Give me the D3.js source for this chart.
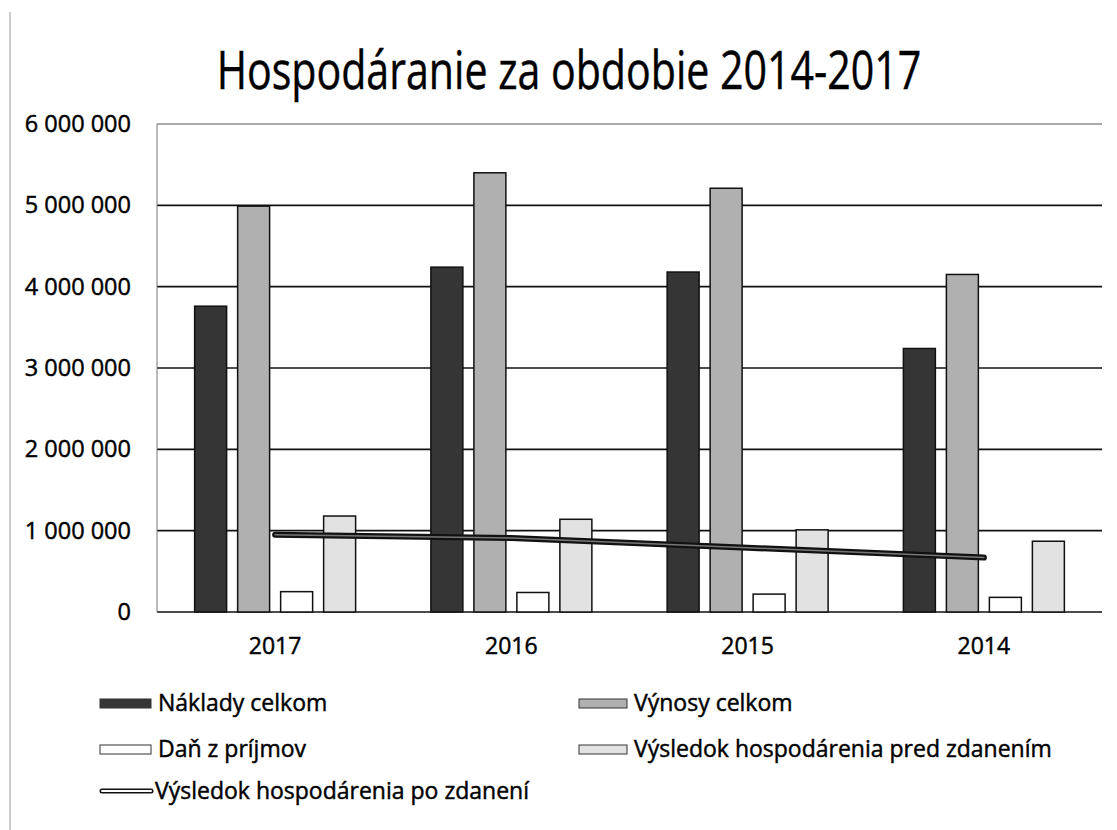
<!DOCTYPE html>
<html>
<head>
<meta charset="utf-8">
<script src="https://cdn.jsdelivr.net/npm/d3@7"></script>
<style>
  body { margin: 0; background: #fff; }
  text { font-family: "Open Sans", sans-serif; fill: #000; stroke: #000; stroke-width: 0.45; }
</style>
</head>
<body>
<div id="chart"></div>
<script>
// data
var years = ["2017", "2016", "2015", "2014"];
var naklady = [3760000, 4240000, 4180000, 3240000];
var vynosy = [4990000, 5400000, 5210000, 4150000];
var dan = [250000, 240000, 220000, 180000];
var vysledokPred = [1180000, 1140000, 1010000, 870000];
var vysledokPo = [950000, 910000, 790000, 670000];
var yTicks = [0, 1000000, 2000000, 3000000, 4000000, 5000000, 6000000];

var seriesNames = ["Náklady celkom", "Výnosy celkom", "Daň z príjmov", "Výsledok hospodárenia pred zdanením"];
var seriesValues = [naklady, vynosy, dan, vysledokPred];
var seriesFill = ["#353535", "#b0b0b0", "#ffffff", "#e2e2e2"];
var lineName = "Výsledok hospodárenia po zdanení";

var width = 1117, height = 830;
var margin = {top: 124, right: 15, bottom: 218, left: 157};

var svg = d3.select("#chart").append("svg")
  .attr("width", width)
  .attr("height", height);

// scan edge on the left
svg.append("line")
  .attr("x1", 10).attr("x2", 10).attr("y1", 12).attr("y2", height)
  .attr("stroke", "#999").attr("stroke-width", 1);

// Title - tall narrow lettering, squeezed horizontally to the scan's width
var title = svg.append("text")
  .attr("text-anchor", "middle")
  .attr("font-size", 53)
  .attr("stroke-width", 0.8)
  .text("Hospodáranie za obdobie 2014-2017");
var sx = 705 / title.node().getComputedTextLength();
title.attr("transform", "translate(569,89) scale(" + sx + ",1)");

var x0 = d3.scaleBand()
  .domain(years)
  .range([margin.left, width - margin.right]);

var bw = x0.bandwidth();
var x1 = d3.scaleBand()
  .domain(d3.range(seriesNames.length))
  .range([bw / 2 - 86, bw / 2 + 86])
  .paddingInner(0.256)
  .paddingOuter(0.128);

var y = d3.scaleLinear()
  .domain([0, 6000000])
  .range([height - margin.bottom, margin.top]);

var fmt = function(d) { return d3.format(",")(d).replace(/,/g, " "); };

// gridlines
svg.append("g").selectAll("line")
  .data(yTicks)
  .enter().append("line")
  .attr("x1", margin.left).attr("x2", width - margin.right)
  .attr("y1", function(d) { return y(d); })
  .attr("y2", function(d) { return y(d); })
  .attr("stroke", function(d) { return d === 6000000 ? "#555" : "#111"; })
  .attr("stroke-width", function(d) { return d === 6000000 ? 1 : 1.6; });

// left edge of plot
svg.append("line")
  .attr("x1", margin.left).attr("x2", margin.left)
  .attr("y1", y(6000000)).attr("y2", y(0))
  .attr("stroke", "#777").attr("stroke-width", 1);

// y labels
svg.append("g").selectAll("text")
  .data(yTicks)
  .enter().append("text")
  .attr("x", 131)
  .attr("y", function(d) { return y(d) + 8; })
  .attr("text-anchor", "end")
  .attr("font-size", 23.5)
  .text(fmt);

// x labels
svg.append("g").selectAll("text")
  .data(years)
  .enter().append("text")
  .attr("x", function(d) { return x0(d) + bw / 2; })
  .attr("y", 654)
  .attr("text-anchor", "middle")
  .attr("font-size", 23)
  .text(function(d) { return d; });

// bars
var groups = svg.append("g").selectAll("g")
  .data(years)
  .enter().append("g")
  .attr("transform", function(d) { return "translate(" + x0(d) + ",0)"; });

groups.selectAll("rect")
  .data(function(d, i) {
    return seriesValues.map(function(vals, s) { return {s: s, v: vals[i]}; });
  })
  .enter().append("rect")
  .attr("x", function(d) { return x1(d.s); })
  .attr("width", x1.bandwidth())
  .attr("y", function(d) { return y(d.v); })
  .attr("height", function(d) { return y(0) - y(d.v); })
  .attr("fill", function(d) { return seriesFill[d.s]; })
  .attr("stroke", "#111")
  .attr("stroke-width", 1.5);

// line after tax
var lineGen = d3.line()
  .x(function(d, i) { return x0(years[i]) + bw / 2; })
  .y(function(d) { return y(d); });

svg.append("path")
  .datum(vysledokPo)
  .attr("d", lineGen)
  .attr("fill", "none")
  .attr("stroke", "#111")
  .attr("stroke-width", 6)
  .attr("stroke-linecap", "round");
svg.append("path")
  .datum(vysledokPo)
  .attr("d", lineGen)
  .attr("fill", "none")
  .attr("stroke", "#777")
  .attr("stroke-width", 1.5)
  .attr("stroke-linecap", "round");

// legend
var legendPos = [
  {x: 100, y: 703},
  {x: 579, y: 703},
  {x: 100, y: 749},
  {x: 579, y: 749}
];

var legend = svg.append("g");
seriesNames.forEach(function(name, s) {
  var p = legendPos[s];
  var sw = s % 2 === 0 ? 51 : 48;
  legend.append("rect")
    .attr("x", p.x).attr("y", p.y - 4)
    .attr("width", sw).attr("height", 9)
    .attr("fill", seriesFill[s])
    .attr("stroke", "#333")
    .attr("stroke-width", 1);
  legend.append("text")
    .attr("x", p.x + sw + 7)
    .attr("y", p.y + 8)
    .attr("font-size", 23)
    .text(name);
});

legend.append("line")
  .attr("x1", 102).attr("x2", 151)
  .attr("y1", 791).attr("y2", 791)
  .attr("stroke", "#111").attr("stroke-width", 5)
  .attr("stroke-linecap", "round");
legend.append("line")
  .attr("x1", 102).attr("x2", 151)
  .attr("y1", 791).attr("y2", 791)
  .attr("stroke", "#fff").attr("stroke-width", 2)
  .attr("stroke-linecap", "round");
legend.append("text")
  .attr("x", 155)
  .attr("y", 799)
  .attr("font-size", 23)
  .text(lineName);
</script>
</body>
</html>
